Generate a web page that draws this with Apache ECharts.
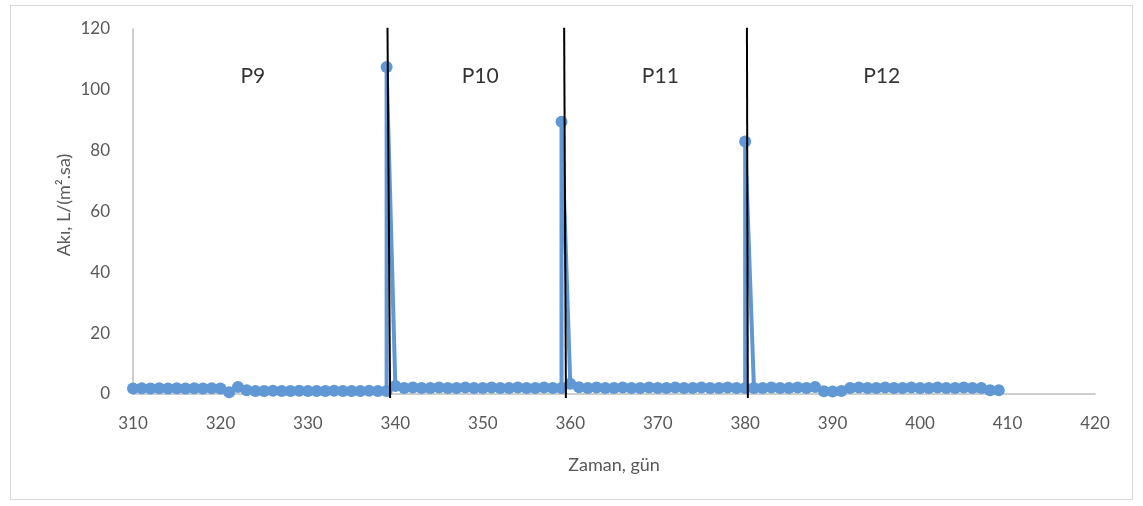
<!DOCTYPE html>
<html>
<head>
<meta charset="utf-8">
<script src="https://cdn.jsdelivr.net/npm/echarts@6/dist/echarts.min.js"></script>
<style>
  html, body { margin: 0; padding: 0; background: #fff; }
  #frame { position: absolute; left: 10px; top: 5px; width: 1121px; height: 493px; border: 1px solid #d9d9d9; }
  #chart { position: absolute; left: 0; top: 0; width: 1143px; height: 506px; }
</style>
</head>
<body>
<div id="frame"></div>
<div id="chart"></div>
<script>
// measurement day and flux (L/(m2.h)); the spikes are the cleaning days
const DAYS = [
  310, 311, 312, 313, 314, 315, 316, 317, 318, 319, 320, 321, 322, 323, 324, 325, 326, 327, 328, 329,
  330, 331, 332, 333, 334, 335, 336, 337, 338, 339, 339,
  340, 341, 342, 343, 344, 345, 346, 347, 348, 349, 350, 351, 352, 353, 354, 355, 356, 357, 358, 359, 359,
  360, 361, 362, 363, 364, 365, 366, 367, 368, 369, 370, 371, 372, 373, 374, 375, 376, 377, 378, 379, 380, 380,
  381, 382, 383, 384, 385, 386, 387, 388, 389, 390, 391, 392, 393, 394, 395, 396, 397, 398, 399, 400,
  401, 402, 403, 404, 405, 406, 407, 408, 409
];
const FLUX = [
  1.8, 1.9, 1.8, 1.9, 1.8, 1.9, 1.8, 1.9, 1.8, 1.9, 1.8, 0.6, 2.3, 1.2, 1.0, 1.0, 1.1, 1.0, 1.0, 1.1,
  1.0, 1.0, 1.0, 1.1, 1.0, 1.0, 1.0, 1.1, 1.0, 1.0, 107.5,
  2.6, 2.0, 2.1, 2.0, 2.0, 2.1, 2.0, 2.0, 2.1, 2.0, 2.0, 2.1, 2.0, 2.0, 2.1, 2.0, 2.0, 2.1, 2.0, 2.0, 89.5,
  3.4, 2.2, 2.0, 2.1, 2.0, 2.0, 2.1, 2.0, 2.0, 2.1, 2.0, 2.0, 2.1, 2.0, 2.0, 2.1, 2.0, 2.0, 2.1, 2.0, 2.0, 83.0,
  2.0, 2.0, 2.1, 2.0, 2.0, 2.1, 2.0, 2.3, 0.9, 0.8, 1.0, 2.0, 2.1, 2.0, 2.0, 2.1, 2.0, 2.0, 2.1, 2.0,
  2.0, 2.1, 2.0, 2.0, 2.1, 2.0, 2.0, 1.2, 1.2
];

// period separators (drawn lines, top and bottom day positions)
const DIVIDER_TOP = [339.1, 359.3, 380.2];
const DIVIDER_BOTTOM = [339.4, 359.5, 380.3];
const DIVIDER_Y = [120.4, -1.3];

const PHASE_NAMES = ['P9', 'P10', 'P11', 'P12'];
const PHASE_X = [323.7, 349.7, 370.3, 395.6];
const PHASE_Y = 104.5;

const BLUE = '#6098d6';
const FONT = 'Lato, "Open Sans", sans-serif';

const chart = echarts.init(document.getElementById('chart'));

const dividerSeries = DIVIDER_TOP.map((top, i) => ({
  type: 'line',
  data: [[top, DIVIDER_Y[0]], [DIVIDER_BOTTOM[i], DIVIDER_Y[1]]],
  symbol: 'none',
  clip: false,
  silent: true,
  z: 5,
  lineStyle: { color: '#000', width: 2 },
}));

chart.setOption({
  animation: false,
  backgroundColor: 'transparent',
  grid: { left: 133, right: 48, top: 29, bottom: 112 },
  xAxis: {
    type: 'value',
    min: 310,
    max: 420,
    interval: 10,
    name: 'Zaman, gün',
    nameLocation: 'middle',
    nameGap: 62,
    nameTextStyle: { color: '#595959', fontSize: 18, fontFamily: FONT },
    axisLine: { show: true, onZero: false, lineStyle: { color: '#bfbfbf', width: 1.5 } },
    axisTick: { show: false },
    splitLine: { show: false },
    axisLabel: { color: '#595959', fontSize: 17, fontFamily: FONT, margin: 21 },
  },
  yAxis: {
    type: 'value',
    min: 0,
    max: 120,
    interval: 20,
    axisLine: { show: true, lineStyle: { color: '#bfbfbf', width: 1.5 } },
    axisTick: { show: false },
    splitLine: { show: false },
    axisLabel: { color: '#595959', fontSize: 17, fontFamily: FONT, margin: 23 },
  },
  graphic: [{
    type: 'text',
    x: 64,
    y: 205,
    rotation: Math.PI / 2,
    style: {
      text: 'Akı, L/(m².sa)',
      fill: '#595959',
      font: '18px ' + FONT,
      align: 'center',
      verticalAlign: 'middle',
    },
  }],
  series: [
    {
      type: 'line',
      data: DAYS.map((d, i) => [d, FLUX[i]]),
      symbol: 'circle',
      symbolSize: 12,
      showAllSymbol: true,
      lineStyle: { color: BLUE, width: 4 },
      itemStyle: { color: BLUE },
      z: 3,
    },
    ...dividerSeries,
    {
      type: 'scatter',
      data: PHASE_X.map((x, i) => ({ value: [x, PHASE_Y], name: PHASE_NAMES[i] })),
      symbolSize: 0,
      silent: true,
      label: {
        show: true,
        position: 'inside',
        formatter: '{b}',
        color: '#000',
        fontSize: 21,
        fontFamily: FONT,
      },
    },
  ],
});
</script>
</body>
</html>
